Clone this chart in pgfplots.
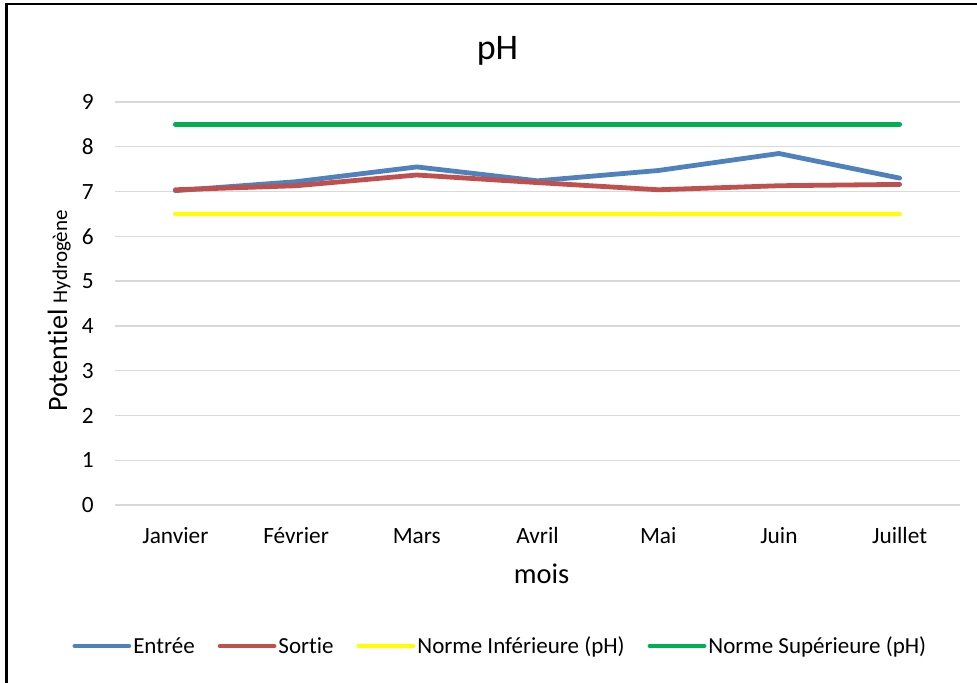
\documentclass[border=0pt]{standalone}
\usepackage{fontspec}
\setmainfont{Carlito}[Ligatures=NoCommon]
\usepackage{pgfplots}
\pgfplotsset{compat=1.18}
\definecolor{entree}{HTML}{4F81BD}
\definecolor{sortie}{HTML}{C0504D}
\definecolor{normeinf}{HTML}{FFFF00}
\definecolor{normesup}{HTML}{00B050}
\definecolor{gridgray}{HTML}{D9D9D9}

\begin{document}
\begin{tikzpicture}
\begin{axis}[
  at={(115bp,178bp)}, anchor=south west,
  scale only axis,
  width=845bp, height=403bp,
  xmin=-0.5, xmax=6.5,
  ymin=0, ymax=9,
  xtick={0,1,2,3,4,5,6},
  xticklabels={Janvier,Février,Mars,Avril,Mai,Juin,Juillet},
  ytick={0,1,...,9},
  ymajorgrids=true,
  grid style={gridgray, line width=1.3bp},
  axis line style={draw=none},
  tick style={draw=none},
  /pgf/number format/assume math mode=true,
  tick label style={font=\fontsize{23.3bp}{28bp}\selectfont, inner sep=0pt},
  xticklabel style={anchor=base, yshift=-38bp},
  yticklabel style={anchor=east, xshift=-21bp},
  legend columns=4,
  legend style={at={(rel axis cs:0.456,-0.35)}, anchor=center, draw=none,
    font=\fontsize{23bp}{28bp}\selectfont,
    nodes={inner xsep=2bp, inner ysep=1bp},
    /tikz/every even column/.append style={column sep=21bp}},
  legend image code/.code={\draw[#1] (0bp,0bp) -- (54bp,0bp);},
  every axis plot/.append style={line width=4.8bp, line cap=round, line join=round},
]
\addplot[entree, no markers] coordinates {(0,7.02) (1,7.22) (2,7.55) (3,7.24) (4,7.47) (5,7.85) (6,7.30)};
\addplot[sortie, no markers] coordinates {(0,7.04) (1,7.13) (2,7.37) (3,7.20) (4,7.04) (5,7.13) (6,7.16)};
\addplot[normeinf, no markers] coordinates {(0,6.5) (1,6.5) (2,6.5) (3,6.5) (4,6.5) (5,6.5) (6,6.5)};
\addplot[normesup, no markers] coordinates {(0,8.5) (1,8.5) (2,8.5) (3,8.5) (4,8.5) (5,8.5) (6,8.5)};
\legend{Entrée,Sortie,Norme Inférieure (pH),Norme Supérieure (pH)}
\end{axis}
% title and axis titles
\node[anchor=base, font=\fontsize{36bp}{40bp}\selectfont] at (497.5bp,623bp) {pH};
\node[anchor=base, font=\fontsize{28.5bp}{32bp}\selectfont] at (541.5bp,99.7bp) {mois};
\node[anchor=base west, rotate=90, inner sep=0pt] at (67bp,271bp)
  {\fontsize{28bp}{32bp}\selectfont Potentiel \fontsize{21bp}{24bp}\selectfont Hydrogène};
% chart frame (left and top edges visible in the crop)
\draw[line width=2.5bp, black] (6.5bp,-20bp) -- (6.5bp,679.2bp) -- (1000bp,679.2bp);
\pgfresetboundingbox
\useasboundingbox (0,0) rectangle (977bp,683bp);
\end{tikzpicture}
\end{document}
